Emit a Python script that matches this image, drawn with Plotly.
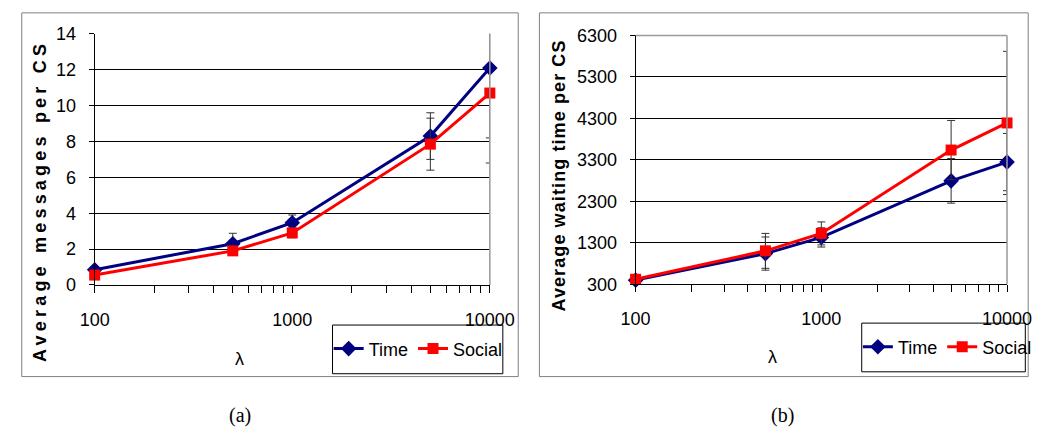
import plotly.graph_objects as go

# Arrival rate values (log x axis)
lam = [100, 500, 1000, 5000, 10000]

# (a) Average messages per CS
msg_time = [0.85, 2.3, 3.47, 8.3, 12.1]
msg_time_err = [0.1, 0.58, 0.43, 1.3, 3.9]
msg_social = [0.55, 1.9, 2.9, 7.85, 10.7]
msg_social_err = [0.05, 0.2, 0.27, 1.45, 3.9]

# (b) Average waiting time per CS
wait_time = [400, 1040, 1430, 2794, 3247]
wait_time_err = [20, 400, 232, 537, 690]
wait_social = [420, 1106, 1527, 3537, 4191]
wait_social_err = [20, 421, 277, 714, 1727]

y_ticks_a = [0, 2, 4, 6, 8, 10, 12, 14]
y_ticks_b = [300, 1300, 2300, 3300, 4300, 5300, 6300]
x_ticks = [100, 1000, 10000]
x_minor = [m * d for d in (100, 1000) for m in range(2, 10)]

W, H = 1058, 441
FONT = "Arial, 'Liberation Sans', sans-serif"
SERIF = "'Times New Roman', 'Liberation Serif', serif"
NAVY = "#000080"
RED = "#FF0000"


def px(x):
    return x / W


def py(y):
    return 1 - y / H


fig = go.Figure()


def add_series(x, y, err, name, color, symbol, xa, ya, legend, size):
    fig.add_trace(go.Scatter(
        x=x, y=y, name=name, mode="lines+markers",
        line=dict(color=color, width=3),
        marker=dict(symbol=symbol, size=size, color=color),
        error_y=dict(type="data", array=err, color="#333333", thickness=1, width=4),
        xaxis=xa, yaxis=ya, legend=legend, cliponaxis=False,
    ))


add_series(lam, msg_time, msg_time_err, "Time", NAVY, "diamond", "x", "y", "legend", 12)
add_series(lam, msg_social, msg_social_err, "Social", RED, "square", "x", "y", "legend", 11)
add_series(lam, wait_time, wait_time_err, "Time", NAVY, "diamond", "x2", "y2", "legend2", 12)
add_series(lam, wait_social, wait_social_err, "Social", RED, "square", "x2", "y2", "legend2", 11)

xaxis_common = dict(
    type="log", range=[2, 4], tickvals=x_ticks, ticktext=[str(v) for v in x_ticks],
    ticks="outside", ticklen=7, tickcolor="black", showline=True, linecolor="black",
    showgrid=False, zeroline=False, ticklabelstandoff=11,
    tickfont=dict(family=FONT, size=18, color="black"),
    minor=dict(tickvals=x_minor, ticks="outside", ticklen=7, tickcolor="black", showgrid=False),
)
yaxis_common = dict(
    ticks="outside", ticklen=5, tickcolor="black", showline=True, linecolor="black",
    showgrid=True, gridcolor="black", gridwidth=1, zeroline=False, ticklabelstandoff=9,
    tickfont=dict(family=FONT, size=18, color="black"),
)

legend_common = dict(xanchor="left", yanchor="middle", orientation="h",
                     bgcolor="rgba(0,0,0,0)", borderwidth=0, itemwidth=30,
                     font=dict(family=FONT, size=18, color="black"))

fig.update_layout(
    width=W, height=H, margin=dict(l=0, r=0, t=0, b=0),
    paper_bgcolor="white", plot_bgcolor="white",
    xaxis=dict(domain=[px(82.8), px(493.5)], anchor="y", **xaxis_common),
    yaxis=dict(domain=[py(288), py(25)], anchor="x", range=[0, 14], tickvals=y_ticks_a, **yaxis_common),
    xaxis2=dict(domain=[px(645), px(1031)], anchor="y2", **xaxis_common),
    yaxis2=dict(domain=[py(287.3), py(26.7)], anchor="x2", range=[300, 6300], tickvals=y_ticks_b,
                **yaxis_common),
    legend=dict(x=px(326), y=py(355), **legend_common),
    legend2=dict(x=px(876), y=py(353), **legend_common),
    showlegend=True,
)

shapes = []
# outer chart frames
for x0, x1 in ((7, 523), (545, 1053)):
    shapes.append(dict(type="rect", xref="paper", yref="paper", x0=px(x0), x1=px(x1),
                       y0=py(384), y1=py(3), line=dict(color="#808080", width=1),
                       fillcolor="rgba(0,0,0,0)", layer="below"))
# legend frames
for x0, x1, y0, y1 in ((330, 507, 330, 381), (880, 1050, 328, 379)):
    shapes.append(dict(type="rect", xref="paper", yref="paper", x0=px(x0), x1=px(x1),
                       y0=py(y1), y1=py(y0), line=dict(color="black", width=1),
                       fillcolor="white", layer="below"))
# plot-area borders (right and top) in gray
for xr, yr in (("x", "y"), ("x2", "y2")):
    shapes.append(dict(type="line", xref=f"{xr} domain", yref=f"{yr} domain",
                       x0=1, x1=1, y0=0, y1=1, line=dict(color="#9a9a9a", width=1.5)))
shapes.append(dict(type="line", xref="x2 domain", yref="y2 domain",
                   x0=0, x1=1, y0=1, y1=1, line=dict(color="#9a9a9a", width=1.5)))
fig.update_layout(shapes=shapes)

annotations = [
    dict(text="<b>Average messages per CS</b>", x=px(25.7), y=py(200), textangle=-90,
         font=dict(family=FONT, size=18, color="black")),
    dict(text="<b>Average waiting time per CS</b>", x=px(566), y=py(174), textangle=-90,
         font=dict(family=FONT, size=18, color="black")),
    dict(text="λ", x=px(233), y=py(366), font=dict(family=FONT, size=18, color="black")),
    dict(text="λ", x=px(787), y=py(363), font=dict(family=FONT, size=18, color="black")),
    dict(text="(a)", x=px(234), y=py(425), font=dict(family=SERIF, size=20, color="black")),
    dict(text="(b)", x=px(798), y=py(425), font=dict(family=SERIF, size=20, color="black")),
]
for a in annotations:
    a.update(xref="paper", yref="paper", showarrow=False, xanchor="center", yanchor="middle")
fig.update_layout(annotations=annotations)

# page without body margin; widen the letter spacing of the rotated axis titles
post = """
document.body.style.margin = '0';
document.body.style.overflow = 'hidden';
document.querySelectorAll('.annotation-text').forEach(function(t){
  var s = t.textContent;
  if (s.indexOf('Average messages') === 0) { t.style.letterSpacing = '4.2px'; }
  if (s.indexOf('Average waiting') === 0) { t.style.letterSpacing = '1.1px'; }
});
"""

fig.write_html("out.html", post_script=post)
